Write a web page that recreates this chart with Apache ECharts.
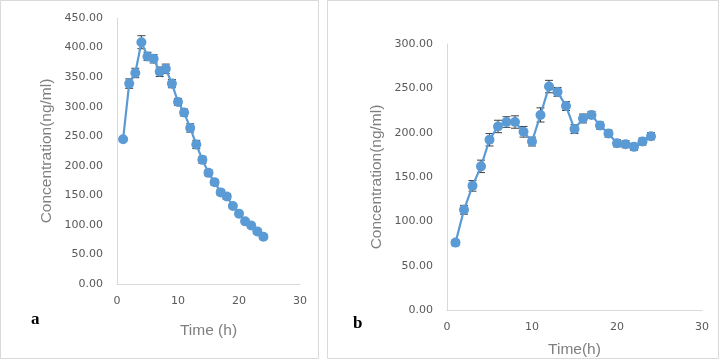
<!DOCTYPE html>
<html><head><meta charset="utf-8">
<script src="https://cdn.jsdelivr.net/npm/echarts@6/dist/echarts.min.js"></script>
<style>html,body{margin:0;padding:0;background:#fff}#c{width:723px;height:360px}</style>
</head><body><div id="c"></div>
<script>
var timesA = [1,2,3,4,5,6,7,8,9,10,11,12,13,14,15,16,17,18,19,20,21,22,23,24];
var concA = [245,339,357,409,385,381,359,364,339,308,290,264,236,210,188,172,155,148,132,119,106,99,89,80];
var errA  = [3,8,8,11,7,7,8,8,7,6,6,7,7,6,5,5,5,5,4,4,4,4,4,4];
var timesB = [1,2,3,4,5,6,7,8,9,10,11,12,13,14,15,16,17,18,19,20,21,22,23,24];
var concB = [76,113,140,162,192,207,212,212,201,190,220,252,246,230,204,216,220,208,199,188,187,184,190,196];
var errB  = [3,5,6,7,7,7,6,7,6,5,8,7,5,5,5,5,4,4,4,4,4,4,4,4];
var yTicksA = {min:0, max:450, interval:50};
var yTicksB = {min:0, max:300, interval:50};
var xTicks = {min:0, max:30, interval:10};

var blue = '#5B9BD5';
function pairs(t,v){return t.map(function(x,i){return [x,v[i]];});}
function errData(t,v,e){return t.map(function(x,i){return [x,v[i]-e[i],v[i]+e[i]];});}
function errRender(params, api){
  var x = api.value(0), lo = api.value(1), hi = api.value(2);
  var pLo = api.coord([x,lo]), pHi = api.coord([x,hi]);
  var w = 4;
  var st = {stroke:'#404040', lineWidth:1};
  return {type:'group', children:[
    {type:'line', shape:{x1:pLo[0],y1:pLo[1],x2:pHi[0],y2:pHi[1]}, style:st},
    {type:'line', shape:{x1:pHi[0]-w,y1:pHi[1],x2:pHi[0]+w,y2:pHi[1]}, style:st},
    {type:'line', shape:{x1:pLo[0]-w,y1:pLo[1],x2:pLo[0]+w,y2:pLo[1]}, style:st}
  ]};
}
var tickFont = {color:'#595959', fontSize:11, fontFamily:'DejaVu Sans'};
var titleFont = {color:'#7f7f7f', fontSize:15.5, fontFamily:'Liberation Sans'};
function xAxis(idx, gap, name){
  return {type:'value', gridIndex:idx, min:xTicks.min, max:xTicks.max, interval:xTicks.interval,
    name:name, nameLocation:'middle', nameGap:gap, nameTextStyle:titleFont,
    axisLine:{show:true, lineStyle:{color:'#d9d9d9', width:1}}, axisTick:{show:false},
    splitLine:{show:false}, axisLabel:Object.assign({margin:12}, tickFont)};
}
function yAxis(idx, t, gap){
  return {type:'value', gridIndex:idx, min:t.min, max:t.max, interval:t.interval,
    name:'Concentration(ng/ml)', nameLocation:'middle', nameGap:gap, nameTextStyle:titleFont,
    axisLine:{show:true, lineStyle:{color:'#d9d9d9', width:1}}, axisTick:{show:false},
    splitLine:{show:false},
    axisLabel:Object.assign({margin:14, formatter:function(v){return v.toFixed(2);}}, tickFont)};
}
var chart = echarts.init(document.getElementById('c'), null, {renderer:'canvas'});
chart.setOption({
  animation:false,
  grid:[{left:117, top:18, width:183, height:266, outerBoundsMode:'none', containLabel:false},
        {left:447, top:44, width:255, height:266, outerBoundsMode:'none', containLabel:false}],
  xAxis:[xAxis(0,39,'Time (h)'), xAxis(1,32,'Time(h)')],
  yAxis:[yAxis(0,yTicksA,62), yAxis(1,yTicksB,62)],
  graphic:[
    {type:'rect', shape:{x:0.5,y:0.5,width:318,height:358}, style:{fill:null, stroke:'#d9d9d9', lineWidth:1}},
    {type:'rect', shape:{x:327.5,y:0.5,width:391,height:358}, style:{fill:null, stroke:'#d9d9d9', lineWidth:1}},
    {type:'text', left:31, top:311, style:{text:'a', font:'bold 17px "Liberation Serif"', fill:'#000'}},
    {type:'text', left:353, top:315, style:{text:'b', font:'bold 17px "Liberation Serif"', fill:'#000'}}
  ],
  series:[
    {type:'custom', xAxisIndex:0, yAxisIndex:0, data:errData(timesA,concA,errA), renderItem:errRender, z:1},
    {type:'line', xAxisIndex:0, yAxisIndex:0, data:pairs(timesA,concA), symbol:'circle', symbolSize:10,
      lineStyle:{color:blue, width:2.2}, itemStyle:{color:blue}, z:2},
    {type:'custom', xAxisIndex:1, yAxisIndex:1, data:errData(timesB,concB,errB), renderItem:errRender, z:1},
    {type:'line', xAxisIndex:1, yAxisIndex:1, data:pairs(timesB,concB), symbol:'circle', symbolSize:10,
      lineStyle:{color:blue, width:2.2}, itemStyle:{color:blue}, z:2}
  ]
});
</script></body></html>
